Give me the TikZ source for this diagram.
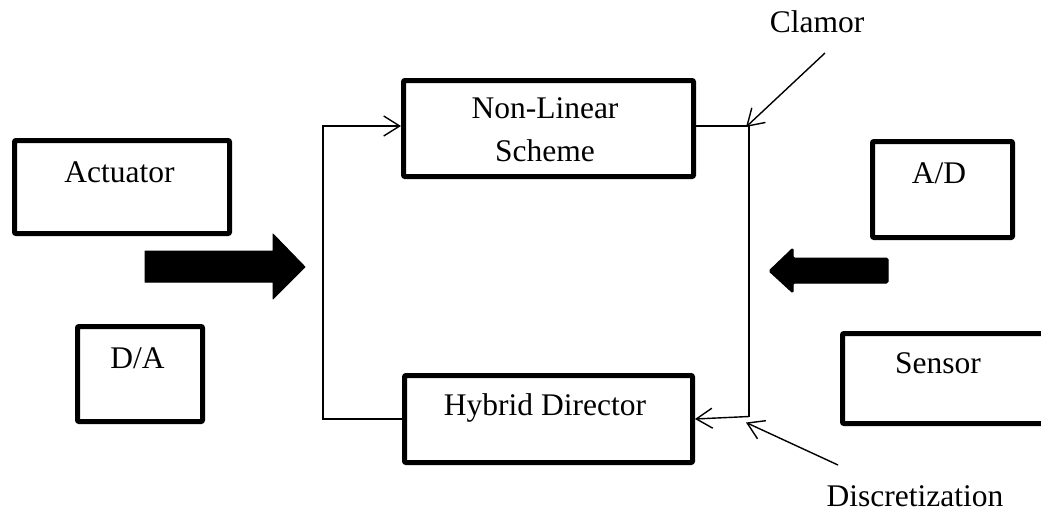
\documentclass[tikz,border=0pt]{standalone}
\usepackage{fontspec}
\setmainfont{Liberation Serif}
\usetikzlibrary{arrows.meta}
\begin{document}
\begin{tikzpicture}[x=1pt,y=-1pt,
  every node/.style={font=\fontsize{31.5}{43}\selectfont},
  box/.style={draw,line width=5pt,line join=round,rounded corners=1pt,inner sep=0pt,anchor=north west},
  lbl/.style={inner sep=0pt,anchor=base},
  conn/.style={line width=1.4pt,-{Straight Barb[length=16pt,width=20pt,line width=1.4pt]}},
  wire/.style={line width=1.4pt},
  bigarrow/.style={fill=black,draw=black,line width=1pt,line join=round}]
\useasboundingbox (0,0) rectangle (1041,512);
\clip (0,0) rectangle (1041,512);

% blocks
\node[box,minimum width=215pt,minimum height=93pt] (act) at (12,138) {};
\node[box,minimum width=125pt,minimum height=95pt] (da) at (75,324) {};
\node[box,minimum width=290pt,minimum height=96pt] (nl) at (401,78) {};
\node[box,minimum width=288pt,minimum height=87pt] (hd) at (402,373) {};
\node[box,minimum width=140pt,minimum height=96pt] (ad) at (870,139) {};
\node[box,minimum width=230pt,minimum height=90pt] (sen) at (840,331) {};

% block labels
\node[lbl] at (119.5,182) {Actuator};
\node[lbl] at (137.5,368) {D/A};
\node[inner sep=0pt,anchor=north,align=center] at (545,97.5) {Non-Linear\\Scheme};
\node[lbl] at (545,415) {Hybrid Director};
\node[lbl] at (939,183) {A/D};
\node[lbl] at (938,373) {Sensor};

% free labels
\node[lbl] (clamor) at (817,32) {Clamor};
\node[lbl] (disc) at (915,506) {Discretization};

% feedback loop
\coordinate (lc) at (323,126);
\coordinate (rc) at (749,126);
\coordinate (rcb) at (749,416.5);
\draw[conn] (hd.west) -| (lc) -- (nl.west |- lc);
\draw[wire] (nl.east |- rc) -- (rc) -- (rcb);
\draw[conn] (rcb) -- (hd.east);

% annotation pointers
\coordinate (clamorTail) at (825,53);
\coordinate (discTail) at (838,465);
\draw[conn] (clamorTail) -- ([xshift=-3pt,yshift=-1pt]rc);
\draw[conn] (discTail) -- ([xshift=-3pt,yshift=-6pt]rcb);

% block arrows
\draw[bigarrow] (145,251) -- (273,251) -- (273,234) -- (305,267) -- (273,299)
  -- (273,282) -- (145,282) -- cycle;
\draw[bigarrow,rounded corners=1.5pt] (888,258) -- (793,258) -- (793,248) -- (769,271)
  -- (793,293) -- (793,283) -- (888,283) -- cycle;
\end{tikzpicture}
\end{document}
